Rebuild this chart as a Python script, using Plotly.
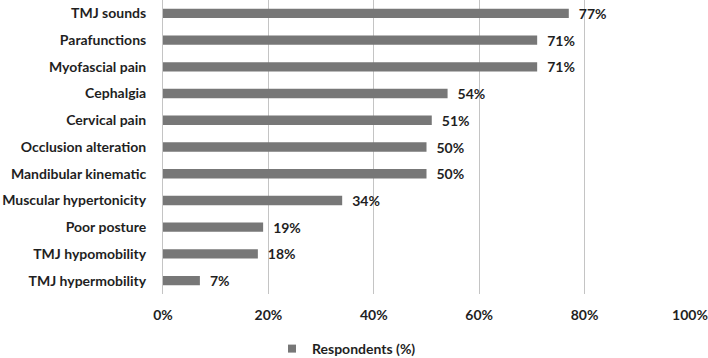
import plotly.graph_objects as go

categories = ["TMJ sounds", "Parafunctions", "Myofascial pain", "Cephalgia", "Cervical pain",
              "Occlusion alteration", "Mandibular kinematic", "Muscular hypertonicity",
              "Poor posture", "TMJ hypomobility", "TMJ hypermobility"]
values = [77, 71, 71, 54, 51, 50, 50, 34, 19, 18, 7]
series_name = "Respondents (%)"
x_ticks = [0, 20, 40, 60, 80, 100]

FONT = "Lato"
TXT = "#1f1f1f"
BAR = "#777777"
fig = go.Figure()
fig.add_trace(go.Bar(
    y=categories, x=values, orientation="h", name=series_name,
    marker=dict(color=BAR, line=dict(width=0)),
    text=[f"\u2002{v}%" for v in values], textposition="outside", constraintext="none",
    textfont=dict(family=FONT, size=14, color=TXT, weight="bold"),
    cliponaxis=False, width=0.35, showlegend=False,
))
# legend entry with a small square swatch
fig.add_trace(go.Scatter(
    x=[None], y=[None], mode="markers", name=series_name,
    marker=dict(symbol="square", size=8, color=BAR), showlegend=True,
))
fig.update_layout(
    width=708, height=358,
    margin=dict(l=163, r=18, t=0, b=64),
    paper_bgcolor="white", plot_bgcolor="white",
    font=dict(family=FONT, size=14, color=TXT, weight="bold"),
    showlegend=True,
    legend=dict(orientation="h", xref="container", yref="container",
                x=272 / 708, xanchor="left", y=1 - 349 / 358, yanchor="middle",
                font=dict(family=FONT, size=14, color=TXT, weight="bold"),
                itemwidth=30, bgcolor="rgba(0,0,0,0)"),
    xaxis=dict(range=[0, 100], tickvals=x_ticks, ticktext=[f"{t}%" for t in x_ticks],
               showgrid=True, gridcolor="#c4c4c4", gridwidth=1, zeroline=False,
               showline=False, ticks="", ticklabelstandoff=11, automargin=False),
    yaxis=dict(autorange="reversed", showline=True, linecolor="#c4c4c4", linewidth=1,
               ticks="", ticklabelstandoff=13, showgrid=False, automargin=False),
)
fig.write_html("out.html", config={"displayModeBar": False},
               post_script="document.body.style.margin='0';document.body.style.overflow='hidden';")
